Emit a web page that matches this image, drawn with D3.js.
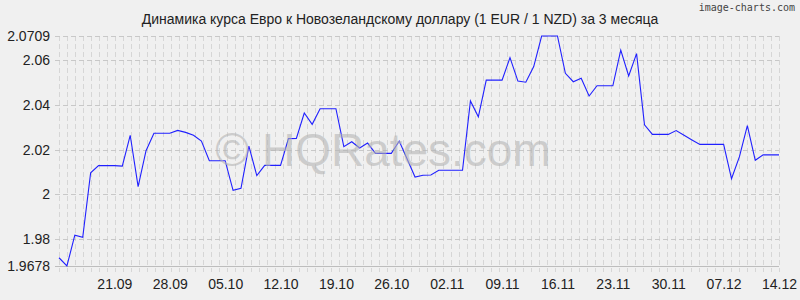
<!DOCTYPE html>
<html>
<head>
<meta charset="utf-8">
<script src="https://cdn.jsdelivr.net/npm/d3@7"></script>
<style>
  body { margin: 0; background: #f0f0f0; }
  svg { display: block; font-family: "Liberation Sans", Arial, sans-serif; }
</style>
</head>
<body>
<div id="chart"></div>
<script>
const title = "Динамика курса Евро к Новозеландскому доллару (1 EUR / 1 NZD) за 3 месяца";
const firstDay = "14.09.2020";
const lastDay = "14.12.2020";

// EUR/NZD daily close, 14.09 .. 14.12
const rates = [
  1.9715, 1.9678, 1.9816, 1.9807, 2.0096, 2.0128, 2.0128, 2.0128, 2.0126, 2.0264,
  2.0034, 2.0195, 2.0273, 2.0273, 2.0273, 2.0286, 2.0277, 2.0264, 2.0238, 2.0150,
  2.0150, 2.0150, 2.0017, 2.0026, 2.0215, 2.0083, 2.0129, 2.0129, 2.0129, 2.0249,
  2.0250, 2.0364, 2.0313, 2.0383, 2.0383, 2.0383, 2.0213, 2.0235, 2.0207, 2.0229,
  2.0183, 2.0183, 2.0183, 2.0238, 2.0158, 2.0077, 2.0085, 2.0086, 2.0107, 2.0107,
  2.0107, 2.0107, 2.0418, 2.0347, 2.0511, 2.0511, 2.0511, 2.0612, 2.0507, 2.0502,
  2.0572, 2.0709, 2.0709, 2.0709, 2.0542, 2.0504, 2.0520, 2.0440, 2.0486, 2.0486,
  2.0486, 2.0646, 2.0530, 2.0630, 2.0311, 2.0268, 2.0268, 2.0268, 2.0285, 2.0264,
  2.0243, 2.0223, 2.0223, 2.0223, 2.0223, 2.0069, 2.0168, 2.0307, 2.0152, 2.0176,
  2.0176, 2.0176
];

const yTicks = [1.9678, 1.98, 2, 2.02, 2.04, 2.06, 2.0709];
const xTickLabels = ["21.09", "28.09", "05.10", "12.10", "19.10", "26.10", "02.11",
                     "09.11", "16.11", "23.11", "30.11", "07.12", "14.12"];

const width = 800, height = 300;
const margin = { top: 36, right: 21, bottom: 34, left: 59 };
const w = width - margin.left - margin.right;
const h = height - margin.top - margin.bottom;

const parse = d3.utcParse("%d.%m.%Y");
const year = firstDay.slice(-4);
const start = parse(firstDay), end = parse(lastDay);
const data = rates.map((v, i) => ({ date: d3.utcDay.offset(start, i), value: v }));

const svg = d3.select("#chart").append("svg")
  .attr("width", width)
  .attr("height", height);

svg.append("rect").attr("width", width).attr("height", height).attr("fill", "#f0f0f0");

const g = svg.append("g").attr("transform", `translate(${margin.left},${margin.top})`);

const x = d3.scaleUtc().domain([start, end]).range([0, w]);
const y = d3.scaleLinear().domain([yTicks[0], yTicks[yTicks.length - 1]]).range([h, 0]);

// vertical dashed grid, one line per 8px step
const gridX = d3.scaleLinear().domain([0, 90]).range([0, w]);
g.append("g").selectAll("line")
  .data(d3.range(91))
  .enter().append("line")
  .attr("x1", d => Math.round(gridX(d)) + 0.5)
  .attr("x2", d => Math.round(gridX(d)) + 0.5)
  .attr("y1", 0)
  .attr("y2", h + 6)
  .attr("stroke", "#d6d6d6")
  .attr("stroke-dasharray", "5,3");

// horizontal dashed grid
g.append("g").selectAll("line")
  .data(yTicks.slice(1))
  .enter().append("line")
  .attr("x1", -4)
  .attr("x2", w)
  .attr("y1", d => Math.round(y(d)) + 0.5)
  .attr("y2", d => Math.round(y(d)) + 0.5)
  .attr("stroke", "#c8c8c8")
  .attr("stroke-dasharray", "5,3");

// base line
g.append("line")
  .attr("x1", -4).attr("x2", w)
  .attr("y1", h + 0.5).attr("y2", h + 0.5)
  .attr("stroke", "#bdbdbd");

// watermark
svg.append("text")
  .attr("x", 383)
  .attr("y", 166)
  .attr("text-anchor", "middle")
  .style("font-size", "46px")
  .attr("fill", "#b4b4b4")
  .attr("fill-opacity", 0.6)
  .text("© HQRates.com");

// axes
const yAxis = g.append("g")
  .call(d3.axisLeft(y).tickValues(yTicks).tickSize(0).tickPadding(9)
    .tickFormat(d => String(+d.toFixed(4))));
yAxis.select(".domain").remove();
yAxis.selectAll("text").style("font-size", "14px").attr("fill", "#222");

const xAxis = g.append("g")
  .attr("transform", `translate(0,${h})`)
  .call(d3.axisBottom(x)
    .tickValues(xTickLabels.map(s => parse(s + "." + year)))
    .tickSize(0).tickPadding(13)
    .tickFormat(d3.utcFormat("%d.%m")));
xAxis.select(".domain").remove();
xAxis.selectAll("text").style("font-size", "14px").attr("fill", "#222");

// line
const line = d3.line().x(d => x(d.date)).y(d => y(d.value));
g.append("path")
  .datum(data)
  .attr("fill", "none")
  .attr("stroke", "#2020ff")
  .attr("stroke-width", 1.1)
  .attr("d", line);

// title
svg.append("text")
  .attr("x", 400)
  .attr("y", 24)
  .attr("text-anchor", "middle")
  .style("font-size", "14px")
  .attr("fill", "#222")
  .text(title);

svg.append("text")
  .attr("x", 795)
  .attr("y", 11)
  .attr("text-anchor", "end")
  .style("font-size", "10px")
  .style("font-family", "'DejaVu Sans Mono', monospace")
  .attr("fill", "#444")
  .text("image-charts.com");
</script>
</body>
</html>
